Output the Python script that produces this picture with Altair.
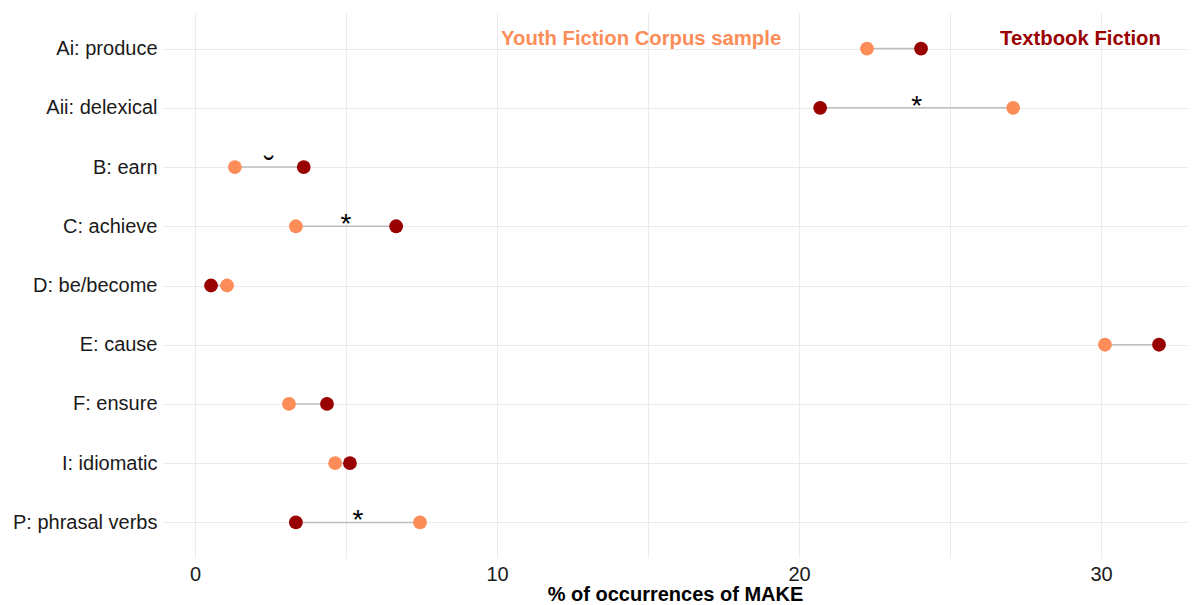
import altair as alt
import pandas as pd

categories = ["Ai: produce", "Aii: delexical", "B: earn", "C: achieve", "D: be/become",
              "E: cause", "F: ensure", "I: idiomatic", "P: phrasal verbs"]
youth = [22.25, 27.09, 1.32, 3.34, 1.06, 30.13, 3.11, 4.64, 7.45]
textbook = [24.04, 20.70, 3.60, 6.66, 0.53, 31.92, 4.37, 5.13, 3.34]
sig = ["", "*", "˘", "*", "", "", "", "", "*"]

groups = ["Youth Fiction Corpus sample", "Textbook Fiction"]
colors = ["#FC8D59", "#990000"]
label_x = [14.77, 29.32]

FONT = "Liberation Sans"

seg = pd.DataFrame({"category": categories, "youth": youth, "textbook": textbook,
                    "mid": [(a + b) / 2 for a, b in zip(youth, textbook)], "sig": sig})
pts = pd.DataFrame({
    "category": categories * 2,
    "group": [groups[0]] * len(categories) + [groups[1]] * len(categories),
    "value": youth + textbook,
})
ann = pd.DataFrame({"category": [categories[0]] * 2, "group": groups, "x": label_x})

xscale = alt.Scale(domain=[-1.093, 32.88], nice=False, zero=False)
yscale = alt.Scale(type="point", padding=0.6, domain=categories)
cscale = alt.Scale(domain=groups, range=colors)

yenc = alt.Y("category:N", sort=categories, scale=yscale,
             axis=alt.Axis(title=None, grid=True, ticks=False, domain=False,
                           labelFontSize=20, labelColor="#1a1a1a", labelFont=FONT,
                           labelPadding=5, gridColor="#EBEBEB"))

rules = alt.Chart(seg).mark_rule(color="#BEBEBE", strokeWidth=1.6).encode(
    x=alt.X("youth:Q", scale=xscale,
            axis=alt.Axis(values=[0, 5, 10, 15, 20, 25, 30],
                          labelExpr="datum.value % 10 == 0 ? datum.label : ''",
                          title="% of occurrences of MAKE", titleFontSize=20,
                          titleFontWeight="bold", titleColor="black", titleFont=FONT,
                          labelFontSize=20, labelColor="#1a1a1a", labelFont=FONT,
                          ticks=False, domain=False, labelPadding=6, titlePadding=0,
                          gridColor="#EBEBEB")),
    x2="textbook:Q",
    y=yenc,
)

points = alt.Chart(pts).mark_circle(size=190, opacity=1).encode(
    x=alt.X("value:Q", scale=xscale),
    y=alt.Y("category:N", sort=categories, scale=yscale),
    color=alt.Color("group:N", scale=cscale, legend=None),
)

stars = alt.Chart(seg).transform_filter("datum.sig == '*'").mark_text(
    fontSize=28, font=FONT, baseline="alphabetic", dy=7, color="black"
).encode(
    x=alt.X("mid:Q", scale=xscale),
    y=alt.Y("category:N", sort=categories, scale=yscale),
    text="sig:N",
)

breve = alt.Chart(seg).transform_filter("datum.sig == '˘'").mark_text(
    fontSize=30, font=FONT, baseline="alphabetic", dy=10, color="black"
).encode(
    x=alt.X("mid:Q", scale=xscale),
    y=alt.Y("category:N", sort=categories, scale=yscale),
    text="sig:N",
)

labels = alt.Chart(ann).mark_text(
    fontSize=20.3, font=FONT, fontWeight="bold", baseline="middle", dy=-10
).encode(
    x=alt.X("x:Q", scale=xscale),
    y=alt.Y("category:N", sort=categories, scale=yscale),
    text="group:N",
    color=alt.Color("group:N", scale=cscale, legend=None),
)

chart = alt.layer(rules, points, stars, breve, labels).properties(
    width=1026, height=545,
    autosize=alt.AutoSizeParams(type="none"),
    padding={"left": 154, "top": 5, "right": 0, "bottom": 45},
    background="white",
).configure_view(stroke=None)

chart.save("out.html", embed_options={"renderer": "svg", "actions": False})
